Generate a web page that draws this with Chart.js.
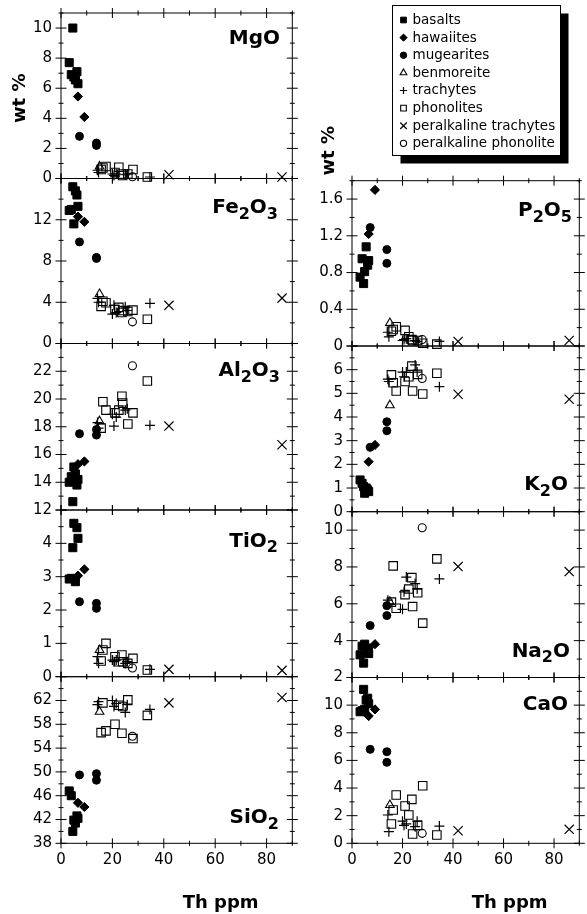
<!DOCTYPE html>
<html><head><meta charset="utf-8">
<script src="https://cdn.jsdelivr.net/npm/chart.js@4/dist/chart.umd.min.js"></script>
<style>
html,body{margin:0;padding:0;background:#fff;}
body{width:587px;height:914px;position:relative;overflow:hidden;}
canvas{position:absolute;}
</style></head><body>
<script>
// ---------- DATA ----------
const SERIES = ['basalts','hawaiites','mugearites','benmoreite','trachytes','phonolites','peralkaline trachytes','peralkaline phonolite'];
const OXIDES = ['MgO','Fe2O3','Al2O3','TiO2','SiO2','P2O5','K2O','Na2O','CaO'];
// each row: [Th ppm, MgO, Fe2O3, Al2O3, TiO2, SiO2, P2O5, K2O, Na2O, CaO]
const BASALTS = [
  [3.2, 7.70, 12.9, 14.0, 2.93, 46.8, 0.75, 1.34, 3.23, 9.52],
  [4.0, 6.90, 13.0, 14.4, 2.95, 46.0, 0.95, 1.20, 3.70, 9.60],
  [4.6, 10.0, 15.2, 12.6, 3.87, 40.0, 0.68, 1.06, 2.78, 11.14],
  [5.0, 6.75, 11.6, 15.1, 4.60, 41.9, 0.81, 0.78, 3.81, 9.70],
  [5.6, 6.55, 14.8, 14.6, 2.85, 41.4, 1.08, 1.00, 3.45, 10.37],
  [6.2, 7.10, 14.4, 13.8, 4.47, 42.6, 0.88, 0.92, 3.59, 10.50],
  [6.6, 6.30, 13.3, 14.2, 4.15, 42.2, 0.93, 0.85, 3.30, 10.10]
];
const HAWAIITES = [
  [6.6, 5.45, 12.3, 15.3, 3.03, 44.8, 1.22, 2.11, 3.60, 9.21],
  [9.1, 4.09, 11.8, 15.5, 3.22, 44.1, 1.70, 2.82, 3.81, 9.69]
];
const MUGEARITES = [
  [7.2, 2.80, 9.85, 17.5, 2.25, 49.5, 1.29, 2.72, 4.82, 6.80],
  [13.8, 2.36, 8.35, 17.8, 2.20, 49.7, 1.05, 3.80, 5.90, 6.63],
  [13.8, 2.20, 8.25, 17.4, 2.05, 48.6, 0.90, 3.42, 5.36, 5.86]
];
const BENMOREITE = [
  [15.0, 0.80, 4.80, 18.4, 0.80, 60.1, 0.25, 4.50, 6.10, 2.77]
];
const TRACHYTES = [
  [14.2, 0.55, 4.37, 18.3, 0.60, 61.3, 0.15, 5.60, 6.20, 2.05],
  [14.6, 0.40, 4.00, 17.9, 0.40, 61.8, 0.10, 5.50, 6.00, 0.84],
  [20.0, 0.30, 2.85, 18.9, 0.50, 62.0, 0.06, 5.90, 5.70, 1.60],
  [20.6, 0.20, 3.70, 18.05, 0.45, 61.0, 0.07, 5.70, 6.65, 1.30],
  [21.5, 0.30, 3.00, 18.7, 0.50, 61.5, 0.08, 5.90, 7.45, 1.40],
  [25.0, 0.25, 3.56, 19.2, 0.40, 60.0, 0.06, 6.20, 7.10, 1.20],
  [25.8, 0.30, 3.20, 19.3, 0.45, 61.3, 0.05, 5.90, 6.80, 1.60],
  [34.6, 0.10, 3.90, 18.1, 0.22, 60.5, 0.05, 5.28, 7.35, 1.25]
];
const PHONOLITES = [
  [15.6, 0.60, 3.60, 17.9, 0.47, 56.6, 0.16, 5.78, 6.09, 1.40],
  [16.3, 0.70, 4.10, 19.8, 0.80, 61.6, 0.18, 5.45, 8.06, 2.41],
  [17.5, 0.80, 3.95, 19.2, 1.00, 56.9, 0.21, 5.10, 5.76, 3.50],
  [21.0, 0.40, 3.30, 19.0, 0.60, 58.0, 0.17, 5.50, 6.50, 2.70],
  [22.5, 0.75, 3.50, 19.2, 0.45, 61.2, 0.10, 5.70, 6.80, 2.05],
  [23.7, 0.30, 3.00, 20.2, 0.65, 56.5, 0.07, 6.15, 7.42, 3.18],
  [24.0, 0.20, 3.20, 19.7, 0.45, 61.0, 0.06, 5.10, 5.85, 0.67],
  [26.0, 0.30, 3.10, 18.2, 0.40, 62.1, 0.06, 5.80, 6.60, 1.30],
  [28.0, 0.60, 3.24, 19.0, 0.55, 55.6, 0.03, 4.97, 4.95, 4.17],
  [33.6, 0.10, 2.35, 21.3, 0.20, 59.5, 0.02, 5.85, 8.44, 0.60]
];
const PER_TRACHYTES = [
  [42.0, 0.25, 3.70, 18.05, 0.22, 61.6, 0.05, 4.96, 8.02, 0.91],
  [86.0, 0.10, 4.40, 16.7, 0.19, 62.5, 0.06, 4.75, 7.75, 1.01]
];
const PER_PHONOLITE = [
  [27.8, 0.12, 2.10, 22.4, 0.26, 56.0, 0.07, 5.63, 10.13, 0.72]
];
const GROUPS = [BASALTS, HAWAIITES, MUGEARITES, BENMOREITE, TRACHYTES, PHONOLITES, PER_TRACHYTES, PER_PHONOLITE];

// axis ranges / ticks
const X_MIN = 0, X_MAX = 90, X_STEP = 20, X_MINOR = 10;
const Y_MIN   = [0, 0, 12, 0, 38, 0,   0, 2, 0];
const Y_MAX   = [11, 16, 24, 5, 66, 1.8, 7, 11, 12];
const Y_STEP  = [2, 4, 2, 1, 4, 0.4, 1, 2, 2];
const Y_MINOR = [1, 2, 1, 0.5, 2, 0.2, 0.5, 1, 1];
const X_TITLE = 'Th ppm';
const Y_TITLE = 'wt %';

// ---------- LAYOUT / STYLE ----------
const FONT = "'DejaVu Sans', 'Liberation Sans', sans-serif";
const PANELS = [
  {col:0, top:13,    bottom:178.5, labelRight:280, labelBase:43.5},
  {col:0, top:178.5, bottom:343.5, labelRight:278, labelBase:213.3},
  {col:0, top:343.5, bottom:510,   labelRight:280, labelBase:376},
  {col:0, top:510,   bottom:676.7, labelRight:278, labelBase:546.7},
  {col:0, top:676.7, bottom:843.3, labelRight:279, labelBase:823.3, last:true},
  {col:1, top:180.7, bottom:346,   labelRight:572, labelBase:216, canvasTop:0},
  {col:1, top:346,   bottom:511.7, labelRight:568, labelBase:490},
  {col:1, top:511.7, bottom:677.5, labelRight:570, labelBase:656.7},
  {col:1, top:677.5, bottom:843.3, labelRight:568, labelBase:710, last:true}
];
const COLS = [
  {left:0, width:300, plotLeft:61, plotRight:293},
  {left:300, width:287, plotLeft:352, plotRight:583}
];
const STYLES = [
  {ps:'rect',     r:5.7, fill:true,  bw:1,   lr:4},
  {ps:'rectRot',  r:4.6, fill:true,  bw:1,   lr:3.6},
  {ps:'circle',   r:4.0, fill:true,  bw:1,   lr:3.2},
  {ps:'triangle', r:5.0, fill:false, bw:1.1, lr:3.9},
  {ps:'cross',    r:5.0, fill:false, bw:1.2, lr:3.6},
  {ps:'rect',     r:6.0, fill:false, bw:1.1, lr:4},
  {ps:'crossRot', r:6.5, fill:false, bw:1.2, lr:4.6},
  {ps:'circle',   r:4.0, fill:false, bw:1.1, lr:3.1}
];

function fmt(v){ return String(parseFloat((+v).toFixed(3))); }
function isMult(d, s){ const q = d / s; return Math.abs(q - Math.round(q)) < 1e-6; }

function drawChem(ctx, text, right, base){
  const runs = text.match(/[A-Za-z]+|\d+/g);
  const MAIN = "bold 20px " + FONT, SUB = "bold 16px " + FONT;
  let total = 0;
  const parts = runs.map(r => { const sub = /^\d+$/.test(r); ctx.font = sub ? SUB : MAIN; const w = ctx.measureText(r).width; total += w; return {r, sub, w}; });
  let x = right - total;
  ctx.textAlign = 'left'; ctx.textBaseline = 'alphabetic'; ctx.fillStyle = '#000';
  parts.forEach(p => { ctx.font = p.sub ? SUB : MAIN; ctx.fillText(p.r, x, base + (p.sub ? 5.5 : 0)); x += p.w; });
}

function drawMarker(ctx, s, x, y, r){
  const st = STYLES[s];
  ctx.fillStyle = st.fill ? '#000' : 'rgba(0,0,0,0)';
  ctx.strokeStyle = '#000';
  ctx.lineWidth = st.bw;
  Chart.helpers.drawPoint(ctx, {pointStyle: st.ps, radius: r, rotation: 0, borderWidth: st.bw}, x, y);
}

function makePanel(i){
  const P = PANELS[i], C = COLS[P.col];
  const canvasTop = (P.canvasTop !== undefined) ? P.canvasTop : Math.floor(P.top) - 25;
  const canvasBottom = P.last ? 914 : Math.ceil(P.bottom) + 25;
  const H = canvasBottom - canvasTop;
  const cv = document.createElement('canvas');
  cv.width = C.width; cv.height = H;
  cv.style.left = C.left + 'px'; cv.style.top = canvasTop + 'px';
  cv.style.width = C.width + 'px'; cv.style.height = H + 'px';
  document.body.appendChild(cv);

  const datasets = GROUPS.map((rows, s) => ({
    label: SERIES[s],
    data: rows.map(r => ({x: r[0], y: r[i + 1]})),
    pointStyle: STYLES[s].ps,
    pointRadius: STYLES[s].r,
    pointBackgroundColor: STYLES[s].fill ? '#000' : 'rgba(0,0,0,0)',
    pointBorderColor: '#000',
    pointBorderWidth: STYLES[s].bw,
    showLine: false,
    clip: false
  }));

  const plugin = {
    id: 'panel' + i,
    beforeDatasetsDraw(chart){
      const ctx = chart.ctx, a = chart.chartArea, xs = chart.scales.x, ys = chart.scales.y;
      ctx.save();
      ctx.strokeStyle = '#000'; ctx.lineWidth = 1;
      ctx.strokeRect(a.left, a.top, a.right - a.left, a.bottom - a.top);
      ctx.beginPath();
      const nx = Math.round((X_MAX - X_MIN) / X_MINOR);
      for (let k = 0; k <= nx; k++){
        const v = X_MIN + k * X_MINOR;
        const L = isMult(v - X_MIN, X_STEP) ? 5 : 2.5;
        const p = xs.getPixelForValue(v);
        ctx.moveTo(p, a.top - L); ctx.lineTo(p, a.top + L);
        ctx.moveTo(p, a.bottom - L); ctx.lineTo(p, a.bottom + L);
      }
      const ny = Math.round((Y_MAX[i] - Y_MIN[i]) / Y_MINOR[i]);
      for (let k = 0; k <= ny; k++){
        const v = Y_MIN[i] + k * Y_MINOR[i];
        const L = isMult(v - Y_MIN[i], Y_STEP[i]) ? 5.5 : 2.5;
        const p = ys.getPixelForValue(v);
        ctx.moveTo(a.left - L, p); ctx.lineTo(a.left + L, p);
        ctx.moveTo(a.right - L, p); ctx.lineTo(a.right + L, p);
      }
      ctx.stroke();
      ctx.restore();
    },
    afterDraw(chart){
      const ctx = chart.ctx, a = chart.chartArea;
      ctx.save();
      drawChem(ctx, OXIDES[i], P.labelRight - C.left, P.labelBase - canvasTop);
      ctx.fillStyle = '#000';
      if (i === 0 || i === 5){
        ctx.save();
        const cx = (i === 0 ? 25 : 333.5) - C.left, cy = (i === 0 ? 98.3 : 150.8) - canvasTop;
        ctx.translate(cx, cy); ctx.rotate(-Math.PI / 2);
        ctx.font = "bold 18px " + FONT; ctx.textAlign = 'center'; ctx.textBaseline = 'alphabetic';
        ctx.fillText(Y_TITLE, 0, 0);
        ctx.restore();
      }
      if (P.last){
        ctx.font = "bold 18px " + FONT; ctx.textAlign = 'center'; ctx.textBaseline = 'alphabetic';
        ctx.fillText(X_TITLE, (a.left + a.right) / 2 + 44, 907.5 - canvasTop);
      }
      if (i === 5){
        // legend with drop shadow
        const bx = 392.5 - C.left, by = 5.5 - canvasTop, bw = 168, bh = 150, off = 8;
        ctx.fillStyle = '#000';
        ctx.fillRect(bx + off, by + off, bw, bh);
        ctx.fillStyle = '#fff';
        ctx.fillRect(bx, by, bw, bh);
        ctx.strokeStyle = '#000'; ctx.lineWidth = 1;
        ctx.strokeRect(bx, by, bw, bh);
        ctx.font = "13.5px " + FONT; ctx.textBaseline = 'middle'; ctx.textAlign = 'left';
        SERIES.forEach((name, s) => {
          const y = 20 + s * 17.62 - canvasTop;
          drawMarker(ctx, s, 403.5 - C.left, y, STYLES[s].lr);
          ctx.fillStyle = '#000';
          ctx.fillText(name, 412.5 - C.left, y + 0.5);
        });
      }
      ctx.restore();
    }
  };

  new Chart(cv, {
    type: 'scatter',
    data: {datasets},
    options: {
      responsive: false, animation: false, devicePixelRatio: 1, events: [],
      layout: {padding: {left: 0, right: C.left + C.width - C.plotRight, top: P.top - canvasTop, bottom: P.last ? 0 : canvasBottom - P.bottom}},
      plugins: {legend: {display: false}, tooltip: {enabled: false}, title: {display: false}},
      scales: {
        x: {
          type: 'linear', position: 'bottom', min: X_MIN, max: X_MAX,
          grid: {display: false, drawTicks: false}, border: {display: false},
          ticks: {display: !!P.last, stepSize: X_STEP, includeBounds: false, autoSkip: false, maxRotation: 0, padding: 8,
                  color: '#000', font: {family: FONT, size: 15}, callback: v => fmt(v)},
          afterFit: s => { s.height = P.last ? canvasBottom - P.bottom : 0; }
        },
        y: {
          type: 'linear', position: 'left', min: Y_MIN[i], max: Y_MAX[i],
          grid: {display: false, drawTicks: false}, border: {display: false},
          ticks: {stepSize: Y_STEP[i], includeBounds: false, autoSkip: false, padding: 9,
                  color: '#000', font: {family: FONT, size: 15},
                  callback: v => (Math.abs(v - Y_MAX[i]) < 1e-9 ? '' : fmt(v))},
          afterFit: s => { s.width = C.plotLeft - C.left; }
        }
      }
    },
    plugins: [plugin]
  });
}

for (let i = 0; i < PANELS.length; i++) makePanel(i);
</script>
</body></html>
